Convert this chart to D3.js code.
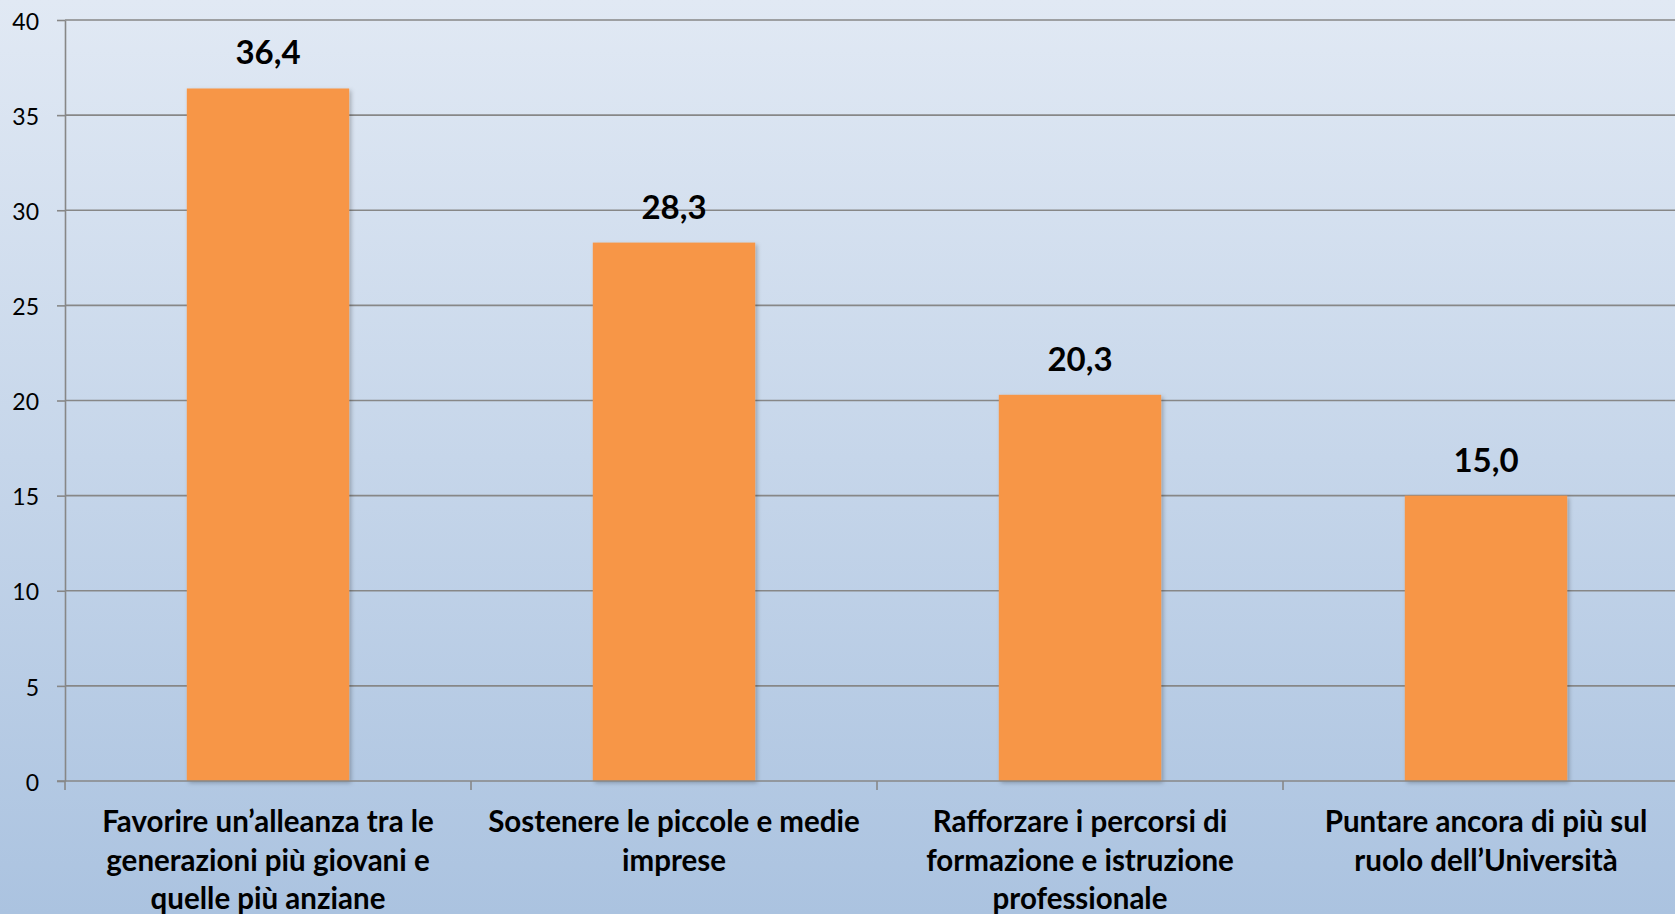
<html>
  <head>
    <style>
      body { margin: 0; }
      .tick-y text { font-family: Lato, "Open Sans", sans-serif; font-size: 23px; fill: #000; }
      .cat text { font-family: Lato, "Open Sans", sans-serif; font-weight: bold; font-size: 29.5px; fill: #000; }
      .val { font-family: Lato, "Open Sans", sans-serif; font-weight: bold; font-size: 33px; fill: #000; }
    </style>
  </head>
  <body>
    <script src="https://d3js.org/d3.v7.min.js"></script>
    <script>
    var width = 1675, height = 914;

    // data
    var categories = [
      "Favorire un’alleanza tra le|generazioni più giovani e|quelle più anziane",
      "Sostenere le piccole e medie|imprese",
      "Rafforzare i percorsi di|formazione e istruzione|professionale",
      "Puntare ancora di più sul|ruolo dell’Università"
    ];
    var values = [36.4, 28.3, 20.3, 15.0];
    var yTicks = [0, 5, 10, 15, 20, 25, 30, 35, 40];

    var mLeft = 65, mTop = 20, mBottom = 781, mRight = 1689;

    var svg = d3.select("body")
        .append("svg")
        .attr("width", width)
        .attr("height", height);

    var defs = svg.append("defs");
    var grad = defs.append("linearGradient")
        .attr("id", "bg").attr("x1", 0).attr("y1", 0).attr("x2", 0).attr("y2", 1);
    grad.append("stop").attr("offset", "0%").attr("stop-color", "#e1e9f4");
    grad.append("stop").attr("offset", "100%").attr("stop-color", "#abc3e0");

    var shadow = defs.append("filter").attr("id", "sh")
        .attr("x", "-10%").attr("y", "-10%").attr("width", "130%").attr("height", "130%");
    shadow.append("feDropShadow").attr("dx", 2).attr("dy", 2).attr("stdDeviation", 2)
        .attr("flood-color", "#000").attr("flood-opacity", 0.25);

    svg.append("rect").attr("width", width).attr("height", height).attr("fill", "url(#bg)");

    var x = d3.scaleBand().domain(d3.range(categories.length)).range([mLeft, mRight]).paddingInner(0.6).paddingOuter(0.3);
    var xb = d3.scaleBand().domain(d3.range(categories.length)).range([mLeft, mRight]);
    var y = d3.scaleLinear().domain([0, 40]).range([mBottom, mTop]);

    // gridlines
    svg.append("g").selectAll("line")
      .data(yTicks.filter(function(d){ return d > 0; }))
      .enter().append("line")
        .attr("x1", mLeft).attr("x2", width)
        .attr("y1", function(d){ return y(d); }).attr("y2", function(d){ return y(d); })
        .attr("stroke", "#878787").attr("stroke-width", 1.6);

    // y axis
    var yAxis = svg.append("g")
        .attr("class", "tick-y")
        .attr("transform", "translate(" + mLeft + ",0)")
        .call(d3.axisLeft(y).tickValues(yTicks).tickSize(8).tickPadding(18).tickSizeOuter(0));
    yAxis.select(".domain").attr("stroke", "#878787").attr("stroke-width", 1.6);
    yAxis.selectAll(".tick line").attr("stroke", "#878787").attr("stroke-width", 1.6);
    yAxis.selectAll(".tick text").attr("font-family", null).attr("font-size", null).attr("dy", "0.4em");

    // bars
    svg.append("g").selectAll("rect")
      .data(values)
      .enter().append("rect")
        .attr("x", function(d, i){ return x(i); })
        .attr("width", x.bandwidth())
        .attr("y", function(d){ return y(d); })
        .attr("height", function(d){ return mBottom - y(d); })
        .attr("fill", "#f79646")
        .attr("filter", "url(#sh)");

    // x axis
    var bounds = d3.range(categories.length + 1).map(function(i){ return mLeft + i * xb.bandwidth(); });
    svg.append("line").attr("x1", mLeft - 8).attr("x2", width)
        .attr("y1", mBottom).attr("y2", mBottom)
        .attr("stroke", "#878787").attr("stroke-width", 1.6);
    svg.append("g").selectAll("line")
      .data(bounds)
      .enter().append("line")
        .attr("x1", function(d){ return d; }).attr("x2", function(d){ return d; })
        .attr("y1", mBottom).attr("y2", mBottom + 9)
        .attr("stroke", "#878787").attr("stroke-width", 1.6);

    // value labels
    svg.append("g").selectAll("text")
      .data(values)
      .enter().append("text")
        .attr("class", "val")
        .attr("x", function(d, i){ return x(i) + x.bandwidth() / 2; })
        .attr("y", function(d){ return y(d) - 24; })
        .attr("text-anchor", "middle")
        .text(function(d){ return d3.format(".1f")(d).replace(".", ","); });

    // category labels
    var cat = svg.append("g").attr("class", "cat");
    categories.forEach(function(c, i){
      var t = cat.append("text")
          .attr("x", xb(i) + xb.bandwidth() / 2)
          .attr("y", 832)
          .attr("text-anchor", "middle");
      c.split("|").forEach(function(line, j){
        t.append("tspan").attr("x", xb(i) + xb.bandwidth() / 2).attr("dy", j ? 38.5 : 0).text(line);
      });
    });
    </script>
  </body>
</html>
